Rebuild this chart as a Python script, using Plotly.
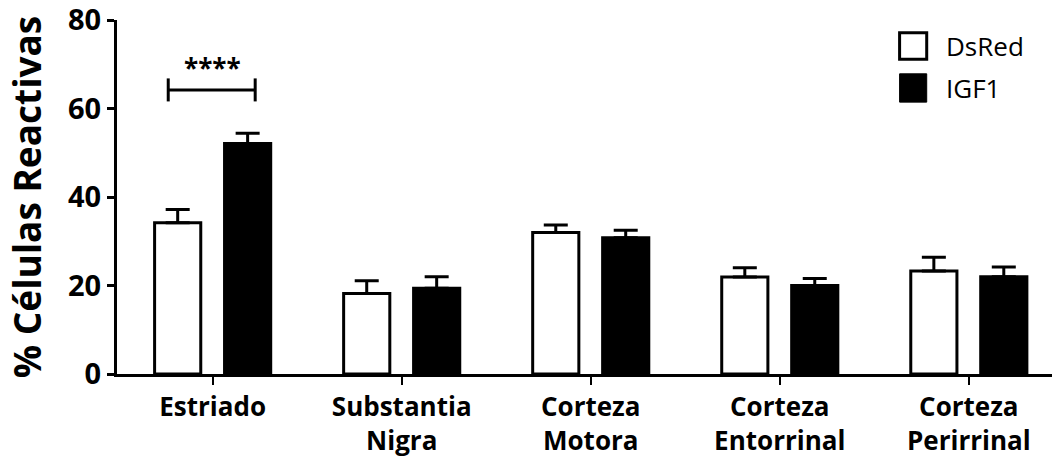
import plotly.graph_objects as go

categories = ["Estriado", "Substantia<br>Nigra", "Corteza<br>Motora", "Corteza<br>Entorrinal", "Corteza<br>Perirrinal"]
dsred = [34.2, 18.2, 32.0, 21.9, 23.3]
dsred_err = [3.0, 2.9, 1.7, 2.1, 3.1]
igf1 = [52.1, 19.4, 30.8, 20.0, 22.0]
igf1_err = [2.3, 2.6, 1.7, 1.6, 2.2]
y_ticks = [0, 20, 40, 60, 80]
series_names = ["DsRed", "IGF1"]
sig_label = "****"

FONT = "Open Sans"

fig = go.Figure()
fig.add_trace(go.Bar(
    x=categories, y=dsred, name=series_names[0], showlegend=False,
    marker=dict(color="white", line=dict(color="black", width=3)),
    error_y=dict(type="data", array=dsred_err, arrayminus=[0] * len(dsred_err), symmetric=False,
                 color="black", thickness=3, width=12),
))
fig.add_trace(go.Bar(
    x=categories, y=igf1, name=series_names[1], showlegend=False,
    marker=dict(color="black", line=dict(color="black", width=3)),
    error_y=dict(type="data", array=igf1_err, arrayminus=[0] * len(igf1_err), symmetric=False,
                 color="black", thickness=3, width=12),
))

# significance bracket
bx0, bx1, by, bt = -0.235, 0.225, 64.2, 2.6
for sh in [
    dict(x0=bx0, x1=bx1, y0=by, y1=by),
    dict(x0=bx0, x1=bx0, y0=by - bt, y1=by + bt),
    dict(x0=bx1, x1=bx1, y0=by - bt, y1=by + bt),
]:
    fig.add_shape(type="line", xref="x", yref="y", line=dict(color="black", width=3), **sh)
fig.add_annotation(x=0, y=64.6, xref="x", yref="y", text="<b>%s</b>" % sig_label, showarrow=False,
                   yanchor="bottom", font=dict(family=FONT, size=26, color="black"))

# legend (drawn manually for large swatches)
fig.add_shape(type="rect", xref="paper", yref="paper", x0=0.837, x1=0.866, y0=0.889, y1=0.964,
              line=dict(color="black", width=3), fillcolor="white")
fig.add_shape(type="rect", xref="paper", yref="paper", x0=0.837, x1=0.866, y0=0.768, y1=0.848,
              line=dict(color="black", width=1), fillcolor="black")
fig.add_annotation(x=0.885, y=0.927, xref="paper", yref="paper", text=series_names[0], showarrow=False,
                   xanchor="left", yanchor="middle", font=dict(family=FONT, size=26, color="black"))
fig.add_annotation(x=0.885, y=0.808, xref="paper", yref="paper", text=series_names[1], showarrow=False,
                   xanchor="left", yanchor="middle", font=dict(family=FONT, size=26, color="black"))

fig.update_layout(
    width=1055, height=465,
    margin=dict(l=117, r=3, t=20, b=91, autoexpand=False),
    paper_bgcolor="white", plot_bgcolor="white",
    barmode="group", bargap=0.26, bargroupgap=0.34,
    showlegend=False,
    font=dict(family=FONT, color="black"),
)
fig.update_xaxes(
    type="category", range=[-0.506, 4.44], automargin=False,
    showline=True, linecolor="black", linewidth=3,
    ticks="outside", ticklen=8, tickwidth=2, tickcolor="black",
    tickfont=dict(family=FONT, size=26, color="black", weight="bold"),
    showgrid=False, zeroline=False,
)
fig.update_yaxes(
    range=[0, 80], tickvals=y_ticks, ticklabeloverflow="allow", automargin=False,
    showline=True, linecolor="black", linewidth=3,
    ticks="outside", ticklen=7, tickwidth=3, tickcolor="black",
    tickfont=dict(family=FONT, size=29, color="black", weight="bold"),
    showgrid=False, zeroline=False,
    title=dict(text="<b>% Células Reactivas</b>", font=dict(family=FONT, size=37, color="black"), standoff=16),
)

fig.write_html(
    "out.html",
    config={"displayModeBar": False},
    post_script="document.body.style.margin='0';document.body.style.overflow='hidden';",
)
